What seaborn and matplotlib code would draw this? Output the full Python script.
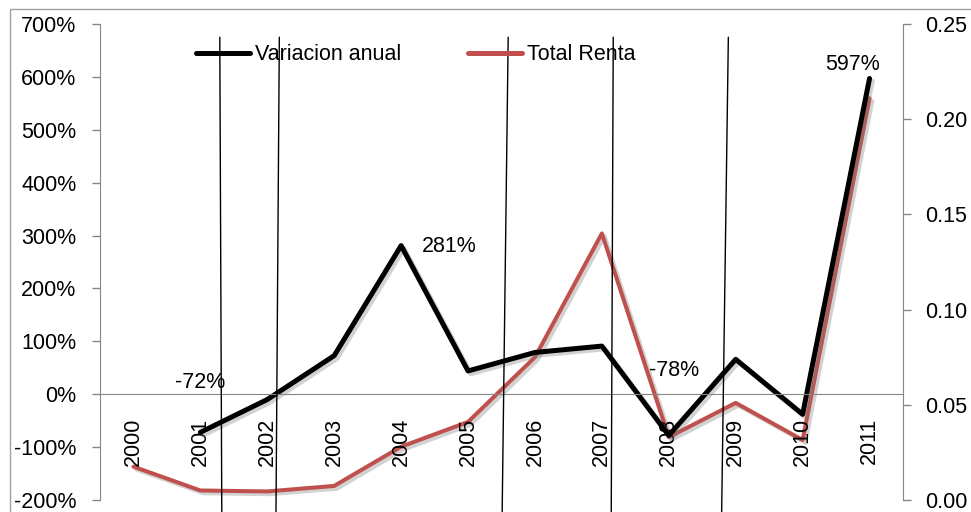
import numpy as np
import pandas as pd
import seaborn as sns
import matplotlib
matplotlib.use("Agg")
import matplotlib.pyplot as plt
import matplotlib.patheffects as pe
from matplotlib.lines import Line2D
from matplotlib.patches import Rectangle
from matplotlib.ticker import FixedLocator, FixedFormatter

# Data
years = ["2000", "2001", "2002", "2003", "2004", "2005",
         "2006", "2007", "2008", "2009", "2010", "2011"]
variacion_anual = [np.nan, -72, -10, 73, 281, 44, 79, 91, -78, 66, -38, 597]   # %
total_renta = [0.0175, 0.0050, 0.0045, 0.0074, 0.028, 0.041,
               0.075, 0.140, 0.033, 0.051, 0.0315, 0.211]
labelled_years = ["2001", "2004", "2008", "2011"]

# hand-drawn vertical strokes on the picture (category units, top -> bottom)
stroke_x_top = [1.29, 2.18, 5.60, 7.17, 8.89]
stroke_x_bottom = [1.32, 2.13, 5.51, 7.14, 8.79]

GREY = "#868686"
RED = "#C0504D"

sns.set_style("white")
plt.rcParams["font.family"] = ["Liberation Sans", "DejaVu Sans"]
FS = 15.5

df = pd.DataFrame({"pos": np.arange(len(years)), "year": years,
                   "var": variacion_anual, "renta": total_renta})

fig = plt.figure(figsize=(9.71, 5.12), dpi=100)
ax = fig.add_axes([100 / 971, 1 - 500 / 512, 803 / 971, 476 / 512])
ax2 = ax.twinx()

shadow = [pe.SimpleLineShadow(offset=(2, -2), shadow_color="#808080", alpha=0.35),
          pe.Normal()]

sns.lineplot(data=df.dropna(), x="pos", y="var", ax=ax, color="black",
             linewidth=3.6, label="Variacion anual", legend=False,
             path_effects=shadow, solid_capstyle="round")
sns.lineplot(data=df, x="pos", y="renta", ax=ax2, color=RED,
             linewidth=2.9, label="Total Renta", legend=False,
             path_effects=shadow, solid_capstyle="round")

# axes limits / ticks
ax.set_xlim(-0.5, len(years) - 0.5)
ax.set_ylim(-200, 700)
ax2.set_ylim(0, 0.25)
left_ticks = np.arange(-200, 701, 100)
right_ticks = np.arange(0, 0.251, 0.05)
ax.yaxis.set_major_locator(FixedLocator(left_ticks))
ax.yaxis.set_major_formatter(FixedFormatter([f"{v:.0f}%" for v in left_ticks]))
ax2.yaxis.set_major_locator(FixedLocator(right_ticks))
ax2.yaxis.set_major_formatter(FixedFormatter([f"{v:.2f}" for v in right_ticks]))
ax.xaxis.set_major_locator(FixedLocator(df["pos"]))
ax.xaxis.set_major_formatter(FixedFormatter(years))
ax.xaxis.set_minor_locator(FixedLocator(np.arange(-0.5, len(years))))
ax.set_xlabel("")
ax.set_ylabel("")
ax2.set_ylabel("")

ax.tick_params(axis="x", which="major", length=0, pad=17, labelsize=FS,
               labelrotation=90, labelcolor="black")
ax.tick_params(axis="x", which="minor", length=6, width=1, color=GREY, direction="out")
ax.tick_params(axis="y", length=6, width=1, color=GREY, direction="out", pad=11,
               left=True, labelsize=FS, labelcolor="black")
ax2.tick_params(axis="y", length=6, width=1, color=GREY, direction="out", pad=10,
                right=True, labelsize=FS, labelcolor="black")

for a in (ax, ax2):
    for s in a.spines.values():
        s.set_visible(False)
ax.spines["left"].set_visible(True)
ax.spines["left"].set_color(GREY)
ax.spines["bottom"].set_visible(True)
ax.spines["bottom"].set_color(GREY)
ax.spines["bottom"].set_position(("data", 0))
ax2.spines["right"].set_visible(True)
ax2.spines["right"].set_color(GREY)
ax.set_zorder(ax2.get_zorder() + 1)
ax.patch.set_visible(False)

# data labels
offsets = {"2001": (0, 36), "2004": (35, -1), "2008": (4, 47), "2011": (-12, 10)}
for yr in labelled_years:
    row = df[df["year"] == yr].iloc[0]
    ax.annotate(f"{row['var']:.0f}%", (row["pos"], row["var"]),
                xytext=offsets[yr], textcoords="offset points",
                ha="center", va="center", fontsize=FS, color="black")

# hand-drawn strokes
for xt, xb in zip(stroke_x_top, stroke_x_bottom):
    ax.add_line(Line2D([xt, xb], [675, -222], color="black", linewidth=1.0,
                       clip_on=False, zorder=5))

# legend
handles = [Line2D([], [], color="black", linewidth=3.6, solid_capstyle="round"),
           Line2D([], [], color=RED, linewidth=3.6, solid_capstyle="round")]
fig.legend(handles, ["Variacion anual", "Total Renta"], loc="center left",
           bbox_to_anchor=(196 / 971, 1 - 55 / 512), ncol=2, frameon=False,
           fontsize=FS, handlelength=2.5, handletextpad=0.25, columnspacing=3.1,
           borderpad=0, borderaxespad=0, labelcolor="black")

# outer chart frame
fig.patches.append(Rectangle((10 / 971, -0.1), 2, 1 - 9 / 512 + 0.1,
                             transform=fig.transFigure, fill=False,
                             edgecolor="#A0A0A0", linewidth=1))

fig.savefig("out.png", dpi=100)
